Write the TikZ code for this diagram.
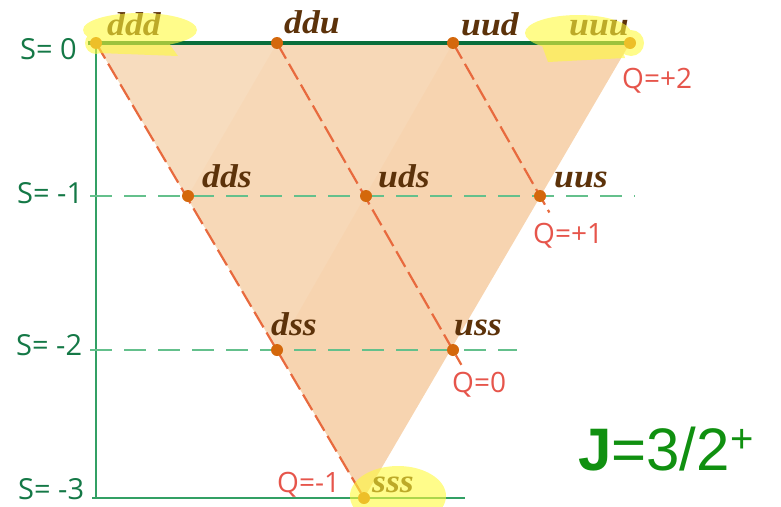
\documentclass[tikz,border=0pt]{standalone}
\usepackage{fontspec}
\usetikzlibrary{calc}
\newfontfamily\lblfont{Liberation Serif}[FakeStretch=1.08]
\newfontfamily\sfont{Open Sans}
\newfontfamily\jfont{Liberation Sans}
\definecolor{peach}{RGB}{247,220,190}
\definecolor{dline}{RGB}{232,106,62}
\definecolor{dotc}{RGB}{212,104,12}
\definecolor{lblc}{RGB}{92,50,10}
\definecolor{sgreen}{RGB}{20,120,70}
\definecolor{thickg}{RGB}{10,110,60}
\definecolor{vgreen}{RGB}{50,160,100}
\definecolor{lgreen}{RGB}{100,192,140}
\definecolor{qred}{RGB}{230,85,75}
\definecolor{jgreen}{RGB}{16,144,16}
\definecolor{hl}{RGB}{255,250,60}
\begin{document}
\begin{tikzpicture}[x=1pt,y=-1pt,
  quark/.style={circle,fill=dotc,inner sep=0,minimum size=12pt},
  lbl/.style={anchor=base west,inner sep=0,text=lblc,font=\lblfont\bfseries\itshape\fontsize{33}{33}\selectfont},
  slbl/.style={anchor=base west,inner sep=0,text=sgreen,font=\sfont\fontsize{29}{29}\selectfont},
  qlbl/.style={anchor=base west,inner sep=0,text=qred,font=\sfont\fontsize{28}{28}\selectfont},
  qline/.style={dline,line width=2.2pt,dash pattern=on 18pt off 6pt},
  sdash/.style={lgreen,line width=1.6pt,dash pattern=on 22pt off 12pt},
  hlite/.style={fill=hl,opacity=0.6}]
\useasboundingbox (0,0) rectangle (781,506);
% quark positions
\coordinate (ddd) at (96,43);
\coordinate (ddu) at (277,43);
\coordinate (uud) at (453,43);
\coordinate (uuu) at (630,43);
\coordinate (dds) at (188,196);
\coordinate (uds) at (366,196);
\coordinate (uus) at (540,196);
\coordinate (dss) at (277,350);
\coordinate (uss) at (453,350);
\coordinate (sss) at (364,498);
% line ends
\coordinate (s0a) at (88,43);
\coordinate (s1a) at (90,196);
\coordinate (s1b) at (635,196);
\coordinate (s2a) at (90,350);
\coordinate (s2b) at (517,350);
\coordinate (s3a) at (92,498);
\coordinate (s3b) at (465,498);
% fill
\fill[peach] (ddd) -- (uuu) -- (sss) -- cycle;
\fill[orange,opacity=0.035] (ddu) -- (uuu) -- (sss) -- (dds) -- cycle;
\fill[orange,opacity=0.035] (uud) -- (uuu) -- (sss) -- (dss) -- cycle;
% green lines
\draw[vgreen,line width=1.5pt] (ddd) -- (ddd |- sss);
\draw[sdash] (s1a) -- (s1b);
\draw[sdash] (s2a) -- (s2b);
\draw[vgreen,line width=1.5pt] (s3a) -- (s3b);
\draw[thickg,line width=4.5pt] (s0a) -- (uuu);
% orange dashed lines
\draw[qline] (ddd) -- (sss);
\draw[qline] (ddu) -- ($(uss)!-17pt!(uds)$);
\draw[qline] (uud) -- ($(uus)!-19pt!(uud)$);
% dots
\foreach \q in {ddd,ddu,uud,uuu,dds,uds,uus,dss,uss,sss}
  \node[quark] (\q-dot) at (\q) {};
% quark labels
\node[lbl] (t-ddd) at (107,35) {ddd};
\node[lbl] (t-ddu) at (284,33) {ddu};
\node[lbl] (t-uud) at (461,35) {uud};
\node[lbl] (t-uuu) at (569,35) {uuu};
\node[lbl] (t-dds) at (202,187) {dds};
\node[lbl] (t-uds) at (378,187) {uds};
\node[lbl] (t-uus) at (554,187) {uus};
\node[lbl] (t-dss) at (271,335) {dss};
\node[lbl] (t-uss) at (454,335) {uss};
\node[lbl] (t-sss) at (372,492) {sss};
% strangeness labels
\node[slbl] (S0) at (20,59) {S= 0};
\node[slbl] (S1) at (17,203) {S= -1};
\node[slbl] (S2) at (16,355) {S= -2};
\node[slbl] (S3) at (18,499) {S= -3};
% charge labels
\node[qlbl] (Q2) at (622,88) {Q=+2};
\node[qlbl] (Q1) at (533,243) {Q=+1};
\node[qlbl] (Q0) at (452,392) {Q=0};
\node[qlbl] (Qm1) at (277,492) {Q=-1};
% J label
\node[anchor=base west,inner sep=0,text=jgreen,font=\jfont\fontsize{60}{60}\selectfont] (J) at (578,470)
  {\textbf{J}=3/2{\fontsize{40}{40}\selectfont\raisebox{18pt}{+}}};
% highlights
\fill[hlite] (140,30) ellipse [x radius=57, y radius=17]
  (96,43) circle [radius=11]
  (95,36) -- (165,38) -- (178,56) -- (98,53) -- cycle;
\fill[hlite] (578,33) ellipse [x radius=53, y radius=18]
  (631,43) circle [radius=13]
  (540,40) -- (620,40) -- (625,58) -- (548,62) -- cycle;
\fill[hlite] (398,496) ellipse [x radius=48, y radius=30]
  (364,498) circle [radius=11];
\end{tikzpicture}
\end{document}
